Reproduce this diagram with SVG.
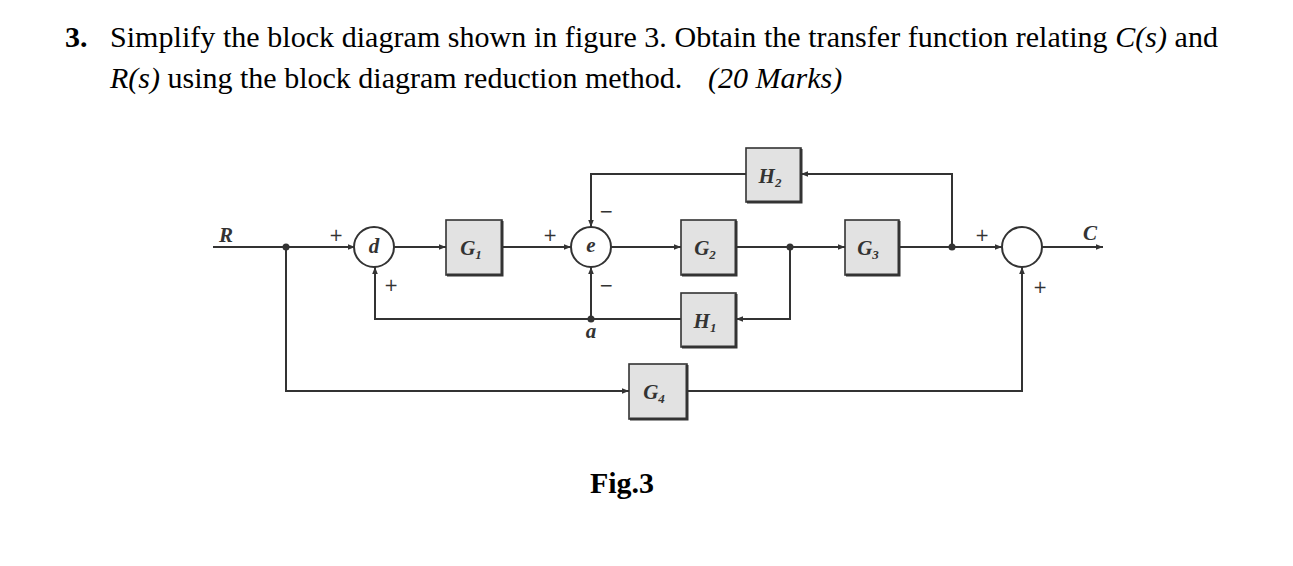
<svg xmlns="http://www.w3.org/2000/svg" width="1293" height="566" viewBox="0 0 1293 566">
<style>
.t{font-family:"Liberation Serif",serif;font-size:30px;fill:#000}
.w{fill:none;stroke:#333;stroke-width:2}
.bx{fill:#e2e2e2;stroke:#333;stroke-width:1.6}
.sh{fill:none;stroke:#333;stroke-width:3}
.sum{fill:#fff;stroke:#333;stroke-width:2}
.lb{font-family:"Liberation Serif",serif;font-weight:bold;font-style:italic;font-size:21px;fill:#333;text-anchor:middle}
.sg{font-family:"DejaVu Sans",sans-serif;font-size:17px;fill:#333;text-anchor:middle}
.sub{font-size:13px}
</style>
<defs>
<marker id="ar" viewBox="0 0 10 10" refX="10" refY="5" markerWidth="7" markerHeight="7" markerUnits="userSpaceOnUse" orient="auto">
<path d="M0,1 L10,5 L0,9 Z" fill="#333"/>
</marker>
</defs>
<rect width="1293" height="566" fill="#fff"/>
<g id="title">
<text class="t" x="65" y="47"><tspan font-weight="bold">3.</tspan></text>
<text class="t" x="110" y="47" textLength="1108" lengthAdjust="spacing">Simplify the block diagram shown in figure 3. Obtain the transfer function relating <tspan font-style="italic">C(s)</tspan> and</text>
<text class="t" x="110" y="88"><tspan font-style="italic">R(s)</tspan> using the block diagram reduction method.<tspan font-style="italic" x="708">(20 Marks)</tspan></text>
</g>
<g id="connectors">
<path class="w" d="M213,247 H355" marker-end="url(#ar)"/>
<path class="w" d="M394,247 H446" marker-end="url(#ar)"/>
<path class="w" d="M502,247 H571" marker-end="url(#ar)"/>
<path class="w" d="M611,247 H681" marker-end="url(#ar)"/>
<path class="w" d="M736,247 H845" marker-end="url(#ar)"/>
<path class="w" d="M899,247 H1002" marker-end="url(#ar)"/>
<path class="w" d="M1042,247 H1103" marker-end="url(#ar)"/>
<path class="w" d="M952,247 V174 H801" marker-end="url(#ar)"/>
<path class="w" d="M746,174 H591 V227" marker-end="url(#ar)"/>
<path class="w" d="M790,247 V319 H736" marker-end="url(#ar)"/>
<path class="w" d="M681,319 H375 V267" marker-end="url(#ar)"/>
<path class="w" d="M591,319 V267" marker-end="url(#ar)"/>
<path class="w" d="M286,247 V391 H629" marker-end="url(#ar)"/>
<path class="w" d="M688,391 H1022 V267" marker-end="url(#ar)"/>
<circle cx="286" cy="247" r="3.5" fill="#333"/>
<circle cx="591" cy="319" r="3.5" fill="#333"/>
<circle cx="790" cy="247" r="3.5" fill="#333"/>
<circle cx="952" cy="247" r="3.5" fill="#333"/>
</g>
<g id="labels">
<text class="lb" x="226" y="242" font-size="20">R</text>
<text class="lb" x="1090" y="240" font-size="20">C</text>
<text class="lb" x="591" y="338" font-size="16">a</text>
<text class="sg" x="336" y="241">+</text>
<text class="sg" x="391" y="291">+</text>
<text class="sg" x="550" y="241">+</text>
<text class="sg" x="606" y="217">−</text>
<text class="sg" x="606" y="291">−</text>
<text class="sg" x="982" y="241">+</text>
<text class="sg" x="1040" y="293">+</text>
</g>
<g id="sum-d">
<circle class="sum" cx="374" cy="247" r="20"/>
<text class="lb" x="374" y="253" font-size="16">d</text>
</g>
<g id="sum-e">
<circle class="sum" cx="591" cy="247" r="20"/>
<text class="lb" x="591" y="252" font-size="14">e</text>
</g>
<g id="sum-out">
<circle class="sum" cx="1022" cy="247" r="20"/>
</g>
<g id="G1">
<rect class="bx" x="446" y="220" width="56" height="55"/>
<path class="sh" d="M447,275 H502 V221"/>
<text class="lb" x="471" y="255">G<tspan class="sub" dy="4">1</tspan></text>
</g>
<g id="G2">
<rect class="bx" x="681" y="220" width="55" height="55"/>
<path class="sh" d="M682,275 H736 V221"/>
<text class="lb" x="705" y="255">G<tspan class="sub" dy="4">2</tspan></text>
</g>
<g id="G3">
<rect class="bx" x="845" y="220" width="54" height="55"/>
<path class="sh" d="M846,275 H899 V221"/>
<text class="lb" x="868" y="255">G<tspan class="sub" dy="4">3</tspan></text>
</g>
<g id="H2">
<rect class="bx" x="746" y="148" width="55" height="54"/>
<path class="sh" d="M747,202 H801 V149"/>
<text class="lb" x="770" y="183">H<tspan class="sub" dy="4">2</tspan></text>
</g>
<g id="H1">
<rect class="bx" x="681" y="293" width="55" height="54"/>
<path class="sh" d="M682,347 H736 V294"/>
<text class="lb" x="705" y="328">H<tspan class="sub" dy="4">1</tspan></text>
</g>
<g id="G4">
<rect class="bx" x="629" y="364" width="58" height="55"/>
<path class="sh" d="M630,419 H687 V365"/>
<text class="lb" x="654" y="399">G<tspan class="sub" dy="4">4</tspan></text>
</g>
<g id="caption">
<text class="t" x="622" y="493" font-weight="bold" font-size="25" text-anchor="middle">Fig.3</text>
</g>
</svg>
